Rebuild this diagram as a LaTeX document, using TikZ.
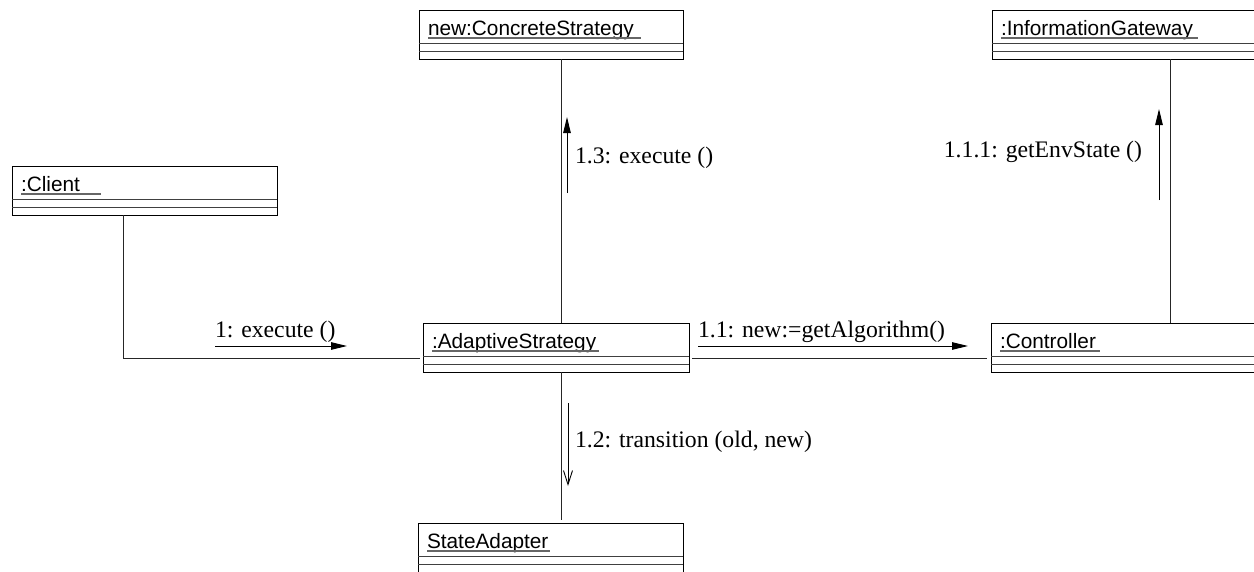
\documentclass[tikz,border=0pt]{standalone}
\usepackage{fontspec}
\setmainfont{Liberation Serif}
\newfontfamily\boxfont{Liberation Sans}
\usetikzlibrary{arrows.meta,calc}
\tikzset{
  objbox/.style={draw=black, line width=1pt, rectangle, minimum height=49pt, inner sep=0pt, outer sep=0pt, anchor=north west},
  sepline/.style={draw=black!75, line width=1pt},
  objlabel/.style={inner sep=0pt, outer sep=0pt, anchor=base west, font=\boxfont\fontsize{20.8}{24}\selectfont},
  uline/.style={draw=black!60, line width=1.3pt},
  life/.style={draw=black!85, line width=0.9pt},
  msg/.style={draw=black, line width=0.9pt, -{Triangle[length=16pt,width=7.5pt]}},
  msgopen/.style={draw=black, line width=0.9pt, -{Straight Barb[length=14pt,width=9pt]}},
  msglabel/.style={inner sep=0pt, outer sep=0pt, font=\fontsize{23.7}{27}\selectfont}
}
\newcommand\umlobj[6]{%
  \node[objbox, minimum width=#4pt] (#1) at (#2,#3) {};
  \draw[sepline] ([yshift=-33pt]#1.north west) -- ([yshift=-33pt]#1.north east);
  \draw[sepline] ([yshift=-41pt]#1.north west) -- ([yshift=-41pt]#1.north east);
  \node[objlabel] (#1-t) at ([xshift=9pt,yshift=-25pt]#1.north west) {#5};
  \draw[uline] ([xshift=9pt,yshift=-28pt]#1.north west) -- ++(#6,0);
}
\begin{document}
\begin{tikzpicture}[x=1pt,y=-1pt]
\useasboundingbox (0,0) rectangle (1254,571);
% objects
\umlobj{cs}{419}{10}{264}{new:ConcreteStrategy}{213}
\umlobj{ig}{992}{10}{266}{:InformationGateway}{197}
\umlobj{client}{12}{166}{265}{:Client}{80}
\umlobj{as}{423}{323}{266}{:AdaptiveStrategy}{167}
\umlobj{ctrl}{991}{323}{267}{:Controller}{100}
\umlobj{sa}{418}{523}{265}{StateAdapter}{123}
% lifeline reference coordinates
\coordinate (lxas) at (561,0);
\coordinate (lxct) at (1170,0);
\coordinate (lxcl) at (123,0);
\coordinate (lyh) at (0,358);
% links
\draw[life] (client.south -| lxcl) |- ([xshift=-3pt]as.west |- lyh);
\draw[life] (as.north -| lxas) -- (cs.south -| lxas);
\draw[life] (as.south -| lxas) -- ([yshift=3pt]sa.north -| lxas);
\draw[life] ([xshift=3pt]as.east |- lyh) -- ([xshift=-4pt]ctrl.west |- lyh);
\draw[life] (ctrl.north -| lxct) -- (ig.south -| lxct);
% messages
\coordinate (m1a) at (215,346); \coordinate (m1b) at (347,346);
\draw[msg] (m1a) -- (m1b);
\node[msglabel, anchor=base west] (l1) at (215,337) {1: execute ()};
\coordinate (m11a) at (698,346); \coordinate (m11b) at (968,346);
\draw[msg] (m11a) -- (m11b);
\node[msglabel, anchor=base west] (l11) at (698,337) {1.1: new:=getAlgorithm()};
\coordinate (m13a) at (567,193); \coordinate (m13b) at (567,117);
\draw[msg] (m13a) -- (m13b);
\node[msglabel, anchor=base west] (l13) at (575,163) {1.3: execute ()};
\coordinate (m111a) at (1159,200); \coordinate (m111b) at (1159,109);
\draw[msg] (m111a) -- (m111b);
\node[msglabel, anchor=base east] (l111) at (1142,157) {1.1.1: getEnvState ()};
\coordinate (m12a) at (568,403); \coordinate (m12b) at (568,486);
\draw[msgopen] (m12a) -- (m12b);
\node[msglabel, anchor=base west] (l12) at (575,447) {1.2: transition (old, new)};
\end{tikzpicture}
\end{document}
